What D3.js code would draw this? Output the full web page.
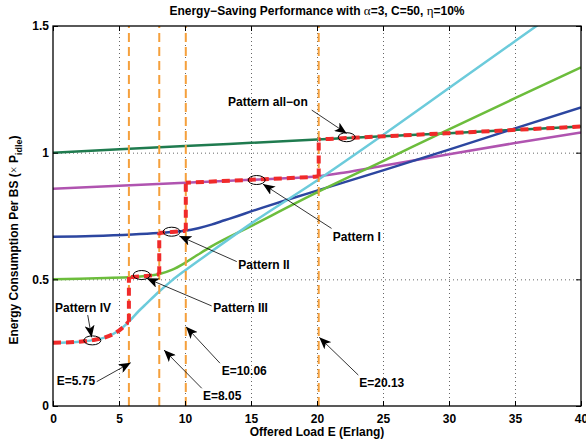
<!DOCTYPE html>
<html>
<head>
<meta charset="utf-8">
<script src="https://cdn.jsdelivr.net/npm/d3@7"></script>
<style>
  body { margin: 0; background: #fff; }
  svg text { font-family: "Liberation Sans", Arial, Helvetica, sans-serif; font-weight: bold; fill: #000; }
</style>
</head>
<body>
<svg id="chart" width="586" height="447"></svg>
<script>
// offered load E (Erlang) samples and energy per BS for each pattern
const loadAllOn = [0, 10, 20, 30, 40];
const patternAllOn = [1.0, 1.026, 1.052, 1.077, 1.103];

const loadI = [0, 5, 10, 15, 18, 20, 22, 25, 30, 35, 40];
const patternI = [0.858, 0.869, 0.881, 0.893, 0.9, 0.906, 0.921, 0.948, 0.994, 1.038, 1.08];

const loadII = [0, 3, 6, 8, 9, 10, 11, 12, 13, 14, 15, 16, 18, 20, 25, 30, 35, 40];
const patternII = [0.668, 0.671, 0.677, 0.683, 0.687, 0.692, 0.702, 0.716, 0.733, 0.75, 0.768, 0.785, 0.818, 0.85, 0.93, 1.012, 1.096, 1.179];

const loadIII = [0, 2, 4, 6, 7, 8, 9, 10, 11, 12, 15, 20, 25, 30, 35, 40];
const patternIII = [0.5, 0.502, 0.505, 0.509, 0.513, 0.52, 0.537, 0.565, 0.598, 0.63, 0.71, 0.843, 0.967, 1.092, 1.215, 1.337];

const loadIV = [0, 1, 2, 3, 4, 5, 5.75, 6.5, 7, 8, 9, 10, 12, 15, 20, 25, 30, 35, 40];
const patternIV = [0.25, 0.251, 0.254, 0.26, 0.272, 0.298, 0.333, 0.375, 0.4, 0.45, 0.495, 0.535, 0.61, 0.72, 0.89, 1.07, 1.255, 1.44, 1.625];

// switching thresholds of the optimal scheme and the jump it makes there
const switchLoads = [5.75, 8.05, 10.06, 20.13];
const jumpFrom = [0.333, 0.52, 0.692, 0.906];
const jumpTo = [0.509, 0.685, 0.881, 1.052];

const xTicks = [0, 5, 10, 15, 20, 25, 30, 35, 40];
const yTicks = [0, 0.5, 1, 1.5];

// annotations in data units: label, text anchor point, arrow start, arrow tip, ellipse (or null)
const noteLabels = ["Pattern all\u2212on", "Pattern I", "Pattern II", "Pattern III", "Pattern IV",
                    "E=5.75", "E=8.05", "E=10.06", "E=20.13"];
const noteText = [[13.26, 1.184], [21.2, 0.652], [14.04, 0.54], [12.14, 0.372], [0.15, 0.372],
                  [0.28, 0.083], [11.36, 0.024], [12.78, 0.122], [23.2, 0.076]];
const noteFrom = [[19.6, 1.168], [21.1, 0.701], [13.92, 0.57], [12.02, 0.395], [2.63, 0.359],
                  [3.31, 0.096], [11.27, 0.07], [12.65, 0.169], [23.13, 0.122]];
const noteTip = [[22.25, 1.076], [15.9, 0.876], [9.57, 0.671], [7.1, 0.504], [2.93, 0.271],
                 [5.89, 0.171], [8.41, 0.221], [10.08, 0.313], [20.17, 0.271]];
const noteEllipse = [[22.25, 1.061], [15.43, 0.892], [8.99, 0.688], [6.72, 0.517], [2.98, 0.259],
                     null, null, null, null];

const svg = d3.select('#chart');
const x = d3.scaleLinear().domain([0, 40]).range([53, 581]);
const y = d3.scaleLinear().domain([0, 1.5]).range([406, 26]);

const zip = (xs, ys) => xs.map((v, i) => [v, ys[i]]);
const line = d3.line()
  .x(d => x(d[0]))
  .y(d => y(d[1]))
  .curve(d3.curveMonotoneX);

const defs = svg.append('defs');
defs.append('clipPath').attr('id', 'plot-clip')
  .append('rect')
  .attr('x', x(0)).attr('y', y(1.5))
  .attr('width', x(40) - x(0)).attr('height', y(0) - y(1.5));

defs.append('marker')
  .attr('id', 'arrow')
  .attr('markerUnits', 'userSpaceOnUse')
  .attr('viewBox', '0 0 12 10')
  .attr('markerWidth', 12).attr('markerHeight', 10)
  .attr('refX', 12).attr('refY', 5)
  .attr('orient', 'auto')
  .append('path')
  .attr('d', 'M0,0 L12,5 L0,10 L3,5 Z')
  .attr('fill', '#000');

// grid
const grid = svg.append('g').attr('stroke', '#666').attr('stroke-width', 1).attr('stroke-dasharray', '1,3');
grid.selectAll('.gx').data(xTicks.slice(1, -1)).join('line')
  .attr('x1', d => x(d) + 0.5).attr('x2', d => x(d) + 0.5)
  .attr('y1', y(0)).attr('y2', y(1.5));
grid.selectAll('.gy').data(yTicks.slice(1, -1)).join('line')
  .attr('x1', x(0)).attr('x2', x(40))
  .attr('y1', d => y(d) + 0.5).attr('y2', d => y(d) + 0.5);

// pattern curves
const series = [
  { pts: zip(loadAllOn, patternAllOn), color: '#1f7b4f' },
  { pts: zip(loadI, patternI), color: '#b054b0' },
  { pts: zip(loadII, patternII), color: '#2c46a0' },
  { pts: zip(loadIII, patternIII), color: '#6cbd3c' },
  { pts: zip(loadIV, patternIV), color: '#6ccbdb' }
];
const curves = svg.append('g').attr('clip-path', 'url(#plot-clip)');
curves.selectAll('path').data(series).join('path')
  .attr('d', d => line(d.pts))
  .attr('fill', 'none')
  .attr('stroke', d => d.color)
  .attr('stroke-width', 2.5);

// thresholds
svg.append('g').selectAll('line').data(switchLoads).join('line')
  .attr('x1', d => x(d)).attr('x2', d => x(d))
  .attr('y1', y(0)).attr('y2', y(1.5))
  .attr('stroke', '#f5a03c')
  .attr('stroke-width', 2)
  .attr('stroke-dasharray', '9,5');

// optimal scheme: IV -> III -> II -> I -> all-on
const bounds = [0, ...switchLoads, 40];
const order = [4, 3, 2, 1, 0];
const red = svg.append('g');
order.forEach((s, i) => {
  const id = 'seg-' + i;
  defs.append('clipPath').attr('id', id)
    .append('rect')
    .attr('x', x(bounds[i])).attr('y', y(1.5))
    .attr('width', x(bounds[i + 1]) - x(bounds[i])).attr('height', y(0) - y(1.5));
  red.append('path')
    .attr('clip-path', `url(#${id})`)
    .attr('d', line(series[s].pts))
    .attr('fill', 'none')
    .attr('stroke', '#f02a2a')
    .attr('stroke-width', 4)
    .attr('stroke-dasharray', '8,5');
});
red.selectAll('line').data(switchLoads).join('line')
  .attr('x1', d => x(d)).attr('x2', d => x(d))
  .attr('y1', (d, i) => y(jumpFrom[i])).attr('y2', (d, i) => y(jumpTo[i]))
  .attr('stroke', '#f02a2a')
  .attr('stroke-width', 4)
  .attr('stroke-dasharray', '8,5');

// axes box with inward ticks
const styleAxis = g => {
  g.attr('font-size', 12).attr('font-family', null);
  g.select('.domain').remove();
  g.selectAll('.tick line').attr('stroke', '#000');
};
svg.append('g').attr('transform', `translate(0,${y(0)})`)
  .call(d3.axisBottom(x).tickValues(xTicks).tickSize(-5).tickPadding(8))
  .call(styleAxis);
svg.append('g').attr('transform', `translate(0,${y(1.5)})`)
  .call(d3.axisTop(x).tickValues(xTicks).tickSize(-5).tickFormat(''))
  .call(styleAxis);
svg.append('g').attr('transform', `translate(${x(0)},0)`)
  .call(d3.axisLeft(y).tickValues(yTicks).tickSize(-5).tickPadding(4).tickFormat(d3.format('')))
  .call(styleAxis);
svg.append('g').attr('transform', `translate(${x(40)},0)`)
  .call(d3.axisRight(y).tickValues(yTicks).tickSize(-5).tickFormat(''))
  .call(styleAxis);
svg.append('rect')
  .attr('x', x(0)).attr('y', y(1.5))
  .attr('width', x(40) - x(0)).attr('height', y(0) - y(1.5))
  .attr('fill', 'none').attr('stroke', '#000').attr('stroke-width', 1.3);

// annotations
const notes = svg.append('g');
noteLabels.forEach((label, i) => {
  notes.append('line')
    .attr('x1', x(noteFrom[i][0])).attr('y1', y(noteFrom[i][1]))
    .attr('x2', x(noteTip[i][0])).attr('y2', y(noteTip[i][1]))
    .attr('stroke', '#000').attr('stroke-width', 0.8)
    .attr('marker-end', 'url(#arrow)');
  if (noteEllipse[i]) {
    notes.append('ellipse')
      .attr('cx', x(noteEllipse[i][0])).attr('cy', y(noteEllipse[i][1]))
      .attr('rx', 8.5).attr('ry', 4.5)
      .attr('fill', 'none').attr('stroke', '#000').attr('stroke-width', 1);
  }
  notes.append('text')
    .attr('x', x(noteText[i][0])).attr('y', y(noteText[i][1]))
    .attr('font-size', 12)
    .text(label);
});

// title and axis labels
const title = svg.append('text')
  .attr('x', (x(0) + x(40)) / 2).attr('y', 15)
  .attr('text-anchor', 'middle')
  .attr('font-size', 12);
title.append('tspan').text('Energy\u2212Saving Performance with ');
title.append('tspan').attr('font-family', '"Liberation Serif", serif').attr('font-weight', 'normal').attr('font-size', 13).text('\u03b1');
title.append('tspan').text('=3, C=50, ');
title.append('tspan').attr('font-family', '"Liberation Serif", serif').attr('font-weight', 'normal').attr('font-size', 13).text('\u03b7');
title.append('tspan').text('=10%');

svg.append('text')
  .attr('x', (x(0) + x(40)) / 2).attr('y', 436)
  .attr('text-anchor', 'middle')
  .attr('font-size', 12)
  .text('Offered Load E (Erlang)');

const ylab = svg.append('text')
  .attr('transform', 'translate(18,240) rotate(-90)')
  .attr('text-anchor', 'middle')
  .attr('font-size', 12);
ylab.append('tspan').text('Energy Consumption Per BS (');
ylab.append('tspan').attr('font-family', '"Liberation Serif", serif').attr('font-weight', 'normal').text('\u00d7');
ylab.append('tspan').text(' P');
ylab.append('tspan').attr('font-size', 9).attr('dy', 4).text('idle');
ylab.append('tspan').attr('dy', -4).text(')');
</script>
</body>
</html>
